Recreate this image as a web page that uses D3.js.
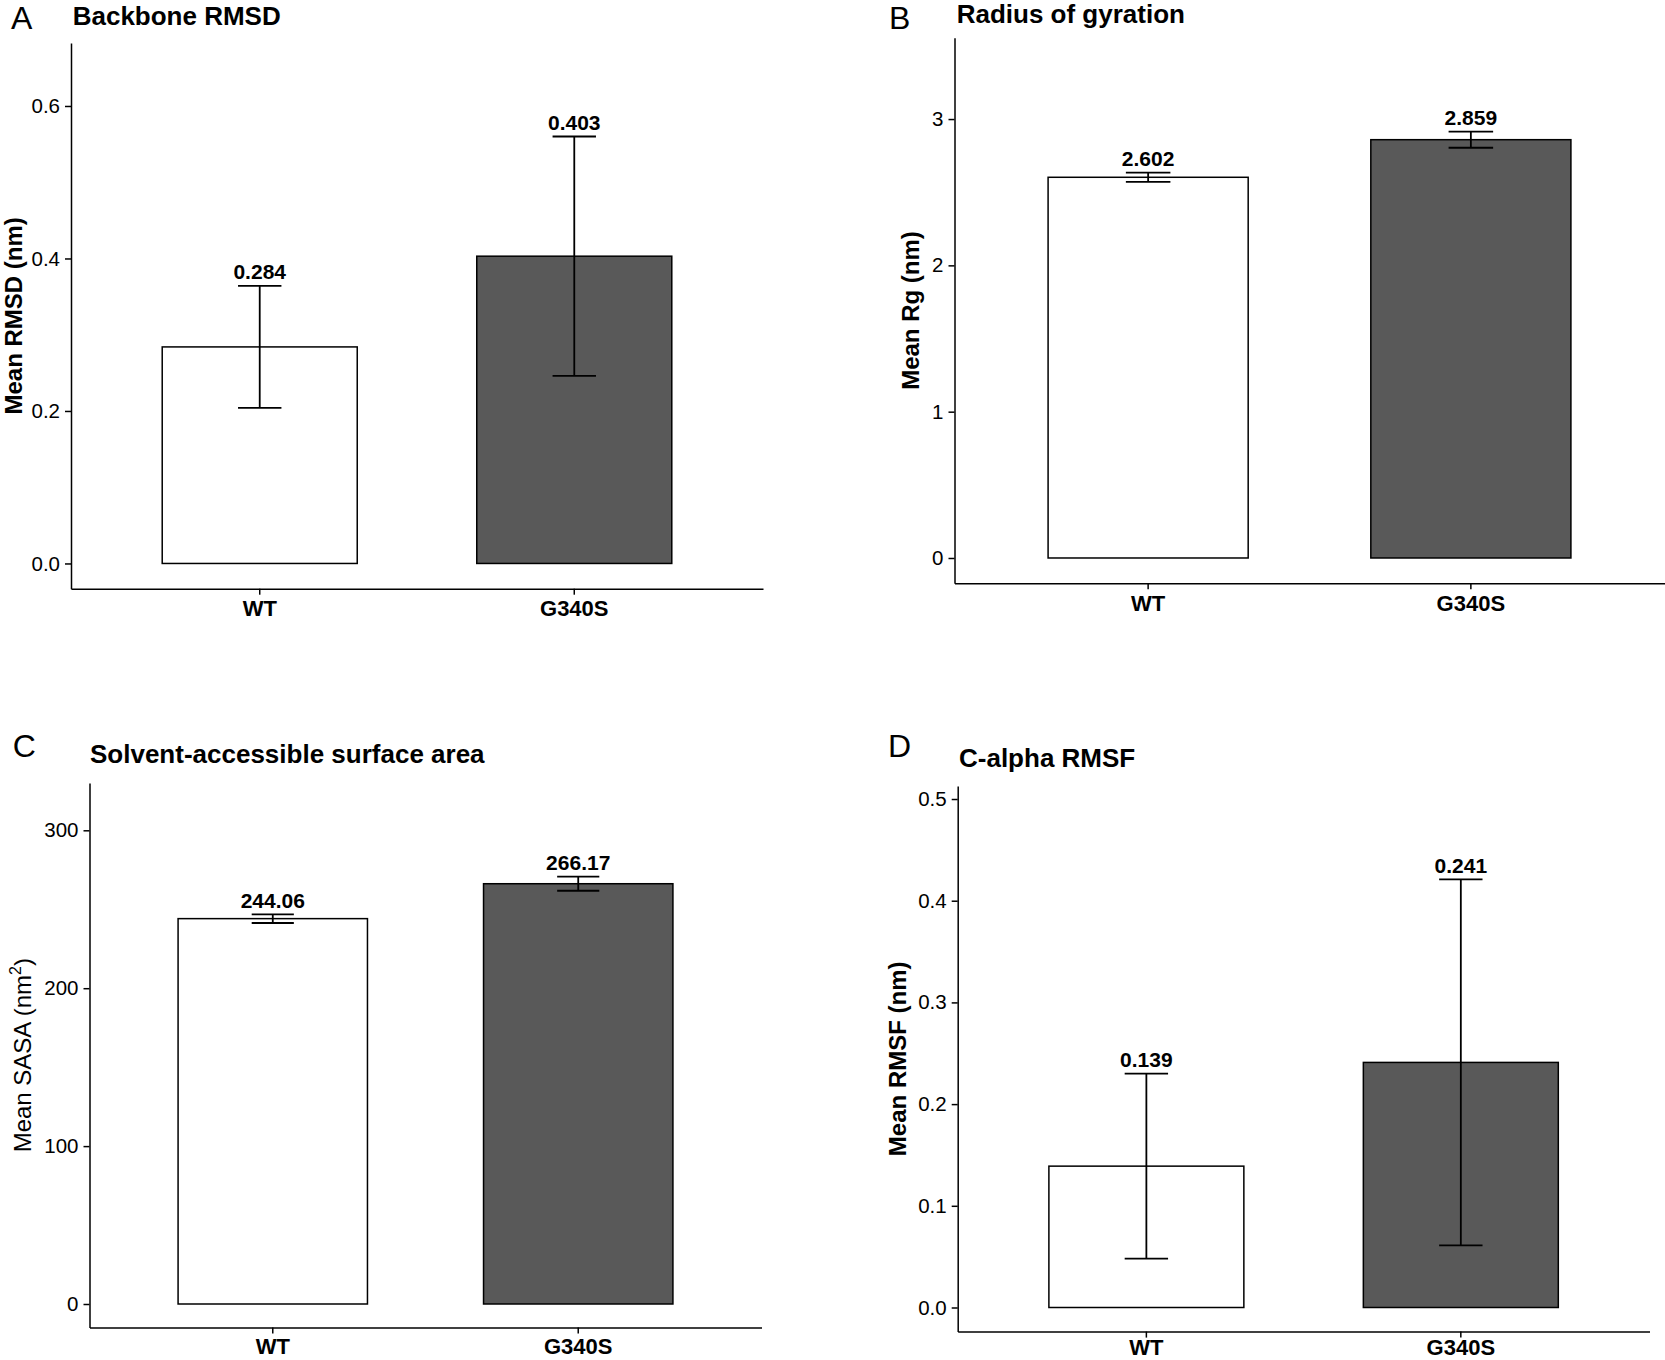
<!DOCTYPE html>
<html>
<head>
<meta charset="utf-8">
<script src="https://cdn.jsdelivr.net/npm/d3@7/dist/d3.min.js"></script>
<style>
  html, body { margin: 0; padding: 0; background: #fff; }
  svg { display: block; }
  text { font-family: "Liberation Sans", Arial, Helvetica, sans-serif; }
</style>
</head>
<body>
<svg id="chart" width="1665" height="1360"></svg>
<script>
// ---------- data ----------
const categories = ["WT", "G340S"];

const rmsdMean = [0.284, 0.403];
const rmsdSD   = [0.080, 0.157];
const rmsdTicks = [0.0, 0.2, 0.4, 0.6];

const rgMean = [2.602, 2.859];
const rgSD   = [0.032, 0.055];
const rgTicks = [0, 1, 2, 3];

const sasaMean = [244.06, 266.17];
const sasaSD   = [2.75, 4.45];
const sasaTicks = [0, 100, 200, 300];

const rmsfMean = [0.139, 0.241];
const rmsfSD   = [0.091, 0.180];
const rmsfTicks = [0.0, 0.1, 0.2, 0.3, 0.4, 0.5];

const barFills = ["#ffffff", "#595959"];

// ---------- layout ----------
const panels = [
  { letter: "A", title: "Backbone RMSD", yTitle: "Mean RMSD (nm)", yBold: true, sup: null,
    mean: rmsdMean, sd: rmsdSD, ticks: rmsdTicks, tickFmt: ".1f", valFmt: ".3f",
    left: 71, right: 763, top: 43, bottom: 588.7, yDom: [-0.0331, 0.6826], xPad: 6,
    letterPos: [11, 28.5], titlePos: [72.7, 25], yTitleX: 21.5 },
  { letter: "B", title: "Radius of gyration", yTitle: "Mean Rg (nm)", yBold: true, sup: null,
    mean: rgMean, sd: rgSD, ticks: rgTicks, tickFmt: "d", valFmt: ".3f",
    left: 954.5, right: 1664.5, top: 37.7, bottom: 583.3, yDom: [-0.173, 3.556], xPad: 6,
    letterPos: [889, 28.5], titlePos: [956.7, 22.5], yTitleX: 919 },
  { letter: "C", title: "Solvent-accessible surface area", yTitle: "Mean SASA (nm", yBold: false, sup: "2",
    mean: sasaMean, sd: sasaSD, ticks: sasaTicks, tickFmt: "d", valFmt: ".2f",
    left: 89.5, right: 761.5, top: 783, bottom: 1327.4, yDom: [-14.82, 329.96], xPad: 5,
    letterPos: [12.7, 756.7], titlePos: [90, 763], yTitleX: 31 },
  { letter: "D", title: "C-alpha RMSF", yTitle: "Mean RMSF (nm)", yBold: true, sup: null,
    mean: rmsfMean, sd: rmsfSD, ticks: rmsfTicks, tickFmt: ".1f", valFmt: ".3f",
    left: 957.7, right: 1649.5, top: 786, bottom: 1331.6, yDom: [-0.0237, 0.5128], xPad: 1.5,
    letterPos: [888, 757], titlePos: [959, 767], yTitleX: 906 }
];

const svg = d3.select("#chart");
const FONT = "'Liberation Sans', Arial, Helvetica, sans-serif";

panels.forEach(p => {
  const g = svg.append("g");
  const rows = categories.map((c, i) => ({ cat: c, mean: p.mean[i], sd: p.sd[i], fill: barFills[i] }));

  const x = d3.scaleBand().domain(categories).range([p.left, p.right])
    .paddingInner(0.38).paddingOuter(0.29);
  const y = d3.scaleLinear().domain(p.yDom).range([p.bottom, p.top]);
  const step = x.step();
  const capW = step * 0.138;
  const cx = d => x(d.cat) + x.bandwidth() / 2;

  // bars
  g.selectAll("rect.bar").data(rows).enter().append("rect")
    .attr("class", "bar")
    .attr("x", d => x(d.cat))
    .attr("width", x.bandwidth())
    .attr("y", d => y(d.mean))
    .attr("height", d => y(0) - y(d.mean))
    .attr("fill", d => d.fill)
    .attr("stroke", "#000")
    .attr("stroke-width", 1.5);

  // error bars
  const eb = g.selectAll("g.eb").data(rows).enter().append("g").attr("class", "eb")
    .attr("stroke", "#000").attr("stroke-width", 1.8);
  eb.append("line")
    .attr("x1", cx).attr("x2", cx)
    .attr("y1", d => y(d.mean - d.sd)).attr("y2", d => y(d.mean + d.sd));
  eb.append("line")
    .attr("x1", d => cx(d) - capW / 2).attr("x2", d => cx(d) + capW / 2)
    .attr("y1", d => y(d.mean + d.sd)).attr("y2", d => y(d.mean + d.sd));
  eb.append("line")
    .attr("x1", d => cx(d) - capW / 2).attr("x2", d => cx(d) + capW / 2)
    .attr("y1", d => y(d.mean - d.sd)).attr("y2", d => y(d.mean - d.sd));

  // value labels
  g.selectAll("text.val").data(rows).enter().append("text")
    .attr("class", "val")
    .attr("x", cx)
    .attr("y", d => y(d.mean + d.sd) - 6.7)
    .attr("text-anchor", "middle")
    .attr("font-size", 21)
    .attr("font-weight", "bold")
    .attr("fill", "#000")
    .text(d => d3.format(p.valFmt)(d.mean));

  // y axis
  const yAxis = g.append("g")
    .attr("transform", `translate(${p.left},0)`)
    .call(d3.axisLeft(y).tickValues(p.ticks).tickFormat(d3.format(p.tickFmt))
      .tickSize(6).tickSizeOuter(0).tickPadding(5));
  yAxis.select(".domain").attr("stroke", "#000").attr("stroke-width", 1.5);
  yAxis.selectAll(".tick line").attr("stroke", "#000").attr("stroke-width", 1.5);
  yAxis.selectAll(".tick text").attr("font-size", 20.5).attr("fill", "#000")
    .attr("font-family", FONT);

  // x axis
  const xAxis = g.append("g")
    .attr("transform", `translate(0,${p.bottom})`)
    .call(d3.axisBottom(x).tickSize(6).tickSizeOuter(0).tickPadding(p.xPad));
  xAxis.select(".domain").attr("stroke", "#000").attr("stroke-width", 1.5);
  xAxis.selectAll(".tick line").attr("stroke", "#000").attr("stroke-width", 1.5);
  xAxis.selectAll(".tick text").attr("font-size", 22).attr("font-weight", "bold").attr("fill", "#000")
    .attr("font-family", FONT);

  // y title
  const yt = g.append("text")
    .attr("transform", `translate(${p.yTitleX},${(p.top + p.bottom) / 2}) rotate(-90)`)
    .attr("text-anchor", "middle")
    .attr("font-size", 24)
    .attr("font-weight", p.yBold ? "bold" : "normal")
    .attr("fill", "#000");
  yt.append("tspan").text(p.yTitle);
  if (p.sup) {
    yt.append("tspan").attr("font-size", 16).attr("dy", -10).text(p.sup);
    yt.append("tspan").attr("dy", 10).text(")");
  }

  // title
  g.append("text")
    .attr("x", p.titlePos[0]).attr("y", p.titlePos[1])
    .attr("font-size", 26).attr("font-weight", "bold").attr("fill", "#000")
    .text(p.title);

  // panel letter
  g.append("text")
    .attr("x", p.letterPos[0]).attr("y", p.letterPos[1])
    .attr("font-size", 32).attr("fill", "#000")
    .text(p.letter);
});
</script>
</body>
</html>
